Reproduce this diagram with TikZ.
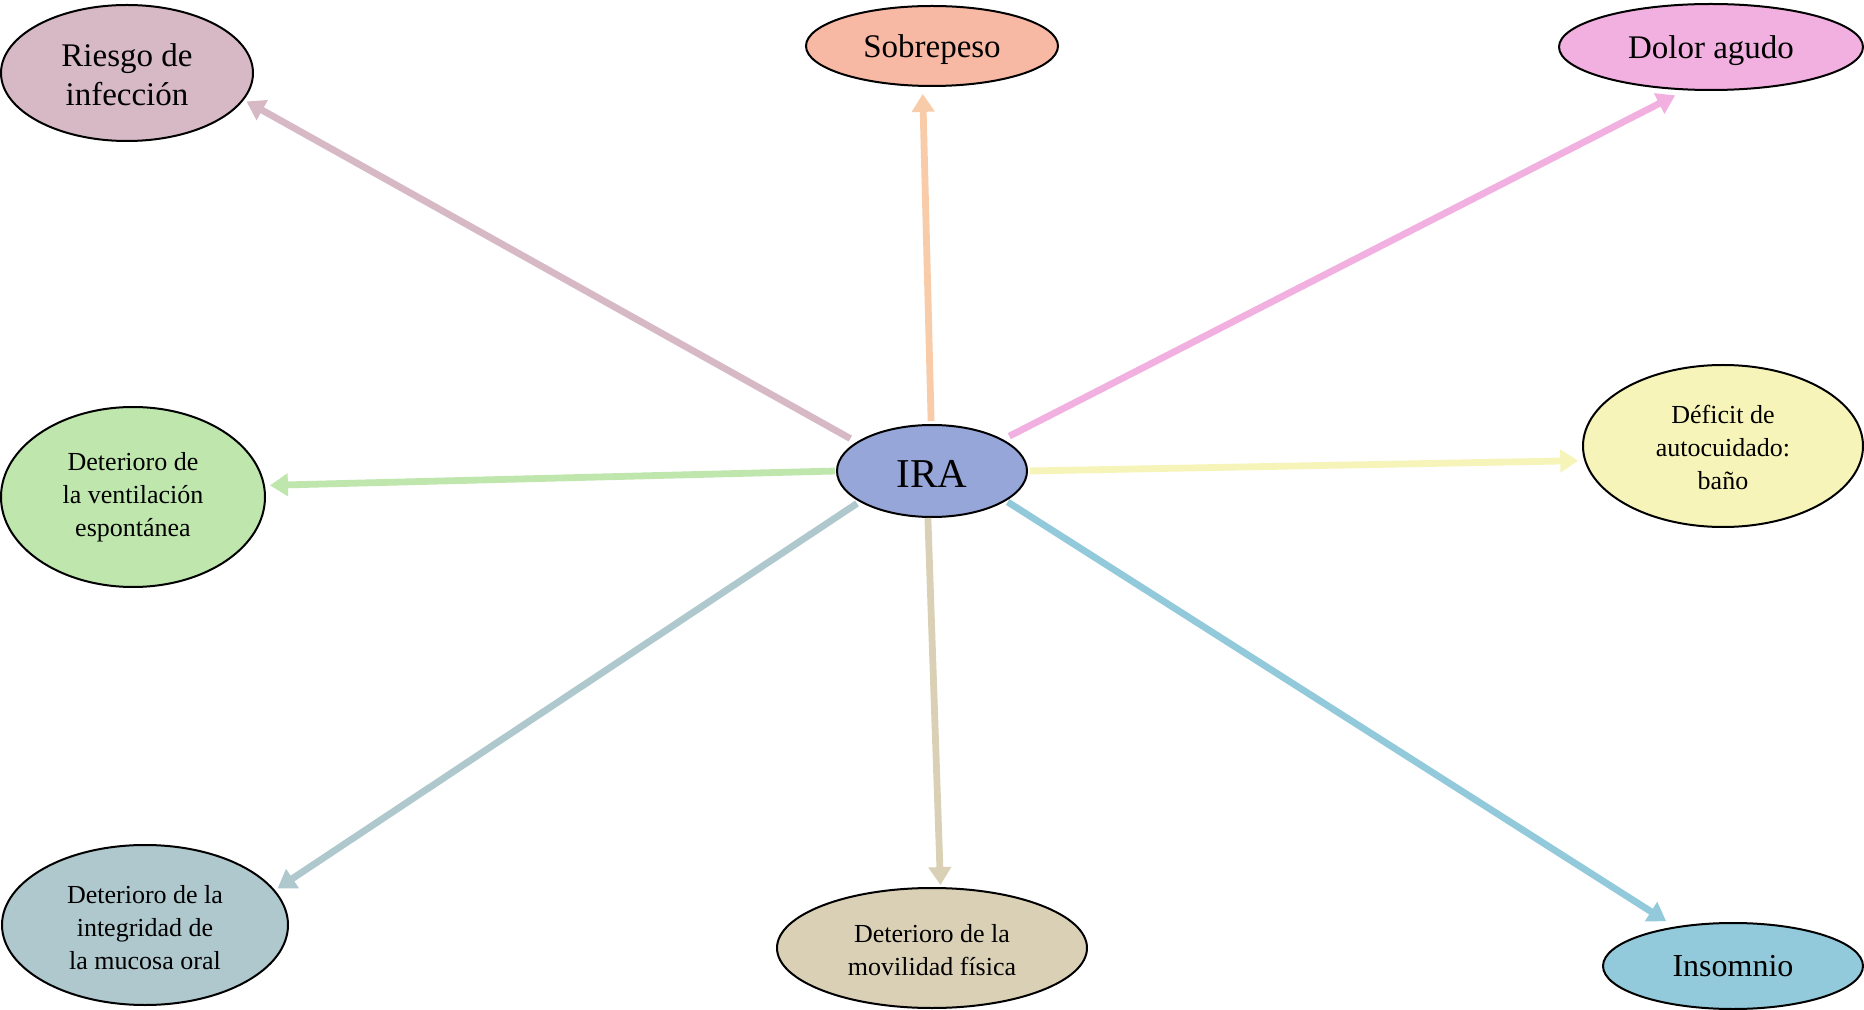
\documentclass[tikz,border=0pt]{standalone}
\usepackage{fontspec}
\setmainfont{Liberation Serif}
\usetikzlibrary{shapes.geometric,arrows.meta}
\definecolor{iraC}{HTML}{97A6D9}
\definecolor{riesgoC}{HTML}{D7B9C5}
\definecolor{sobreC}{HTML}{F7B8A4}
\definecolor{sobreA}{HTML}{F8CBA9}
\definecolor{dolorC}{HTML}{F2B0E1}
\definecolor{deficitC}{HTML}{F6F4B9}
\definecolor{ventC}{HTML}{BEE6AD}
\definecolor{mucosaC}{HTML}{AFC8CD}
\definecolor{movC}{HTML}{DAD0B6}
\definecolor{insC}{HTML}{92CADB}
% lowers the text block in its ellipse by #1
\newcommand\dn[1]{\rule{0pt}{\dimexpr\fontcharht\font`d+#1*2\relax}}
\begin{document}
\begin{tikzpicture}[x=0.5pt,y=-0.5pt,
  bubble/.style={ellipse,draw=black,line width=1pt,inner sep=0pt,align=center},
  big/.style={font=\fontsize{16.5}{19.5}\selectfont},
  small/.style={font=\fontsize{13}{16.5}\selectfont},
  link/.style={line width=3.4pt,-{Triangle[length=9pt,width=11pt]}},
]
\useasboundingbox[fill=white] (0,0) rectangle (1864,1010);

\node[bubble,fill=iraC,minimum width=95pt,minimum height=46pt,font=\fontsize{20.5}{24}\selectfont] (ira) at (932,471) {\dn{1.6pt}IRA};
\node[bubble,fill=riesgoC,big,minimum width=126pt,minimum height=68pt] (riesgo) at (127,73) {\dn{1pt}Riesgo de\\infección};
\node[bubble,fill=sobreC,big,minimum width=126pt,minimum height=40pt] (sobre) at (932,46) {\dn{2.3pt}Sobrepeso};
\node[bubble,fill=dolorC,big,minimum width=152pt,minimum height=43pt] (dolor) at (1711,47) {\dn{2.3pt}Dolor agudo};
\node[bubble,fill=deficitC,small,minimum width=140pt,minimum height=81pt] (deficit) at (1723,446) {\dn{1.2pt}Déficit de\\autocuidado:\\baño};
\node[bubble,fill=ventC,small,minimum width=132pt,minimum height=90pt] (vent) at (133,497) {Deterioro de\\la ventilación\\espontánea};
\node[bubble,fill=mucosaC,small,minimum width=143pt,minimum height=80pt] (mucosa) at (145,925) {\dn{1.7pt}Deterioro de la\\integridad de\\la mucosa oral};
\node[bubble,fill=movC,small,minimum width=155pt,minimum height=60pt] (mov) at (932,948) {\dn{1.2pt}Deterioro de la\\movilidad física};
\node[bubble,fill=insC,font=\fontsize{16}{19}\selectfont,minimum width=130pt,minimum height=43pt] (ins) at (1733,966) {Insomnio};

\draw[link,riesgoC,shorten <=3.5pt,shorten >=1.5pt] (ira.159) -- (riesgo.-13);
\draw[link,sobreA,shorten <=1.5pt,shorten >=3.5pt] (ira.91) -- (sobre.-103);
\draw[link,dolorC,shorten <=3.5pt,shorten >=5.5pt] (ira.24) -- (dolor.-121);
\draw[link,deficitC,shorten <=1pt,shorten >=3pt] (ira.0.6) -- (deficit.-174.4);
\draw[link,ventC,shorten <=0.5pt,shorten >=2.5pt] (ira.180) -- (vent.5);
\draw[link,mucosaC,shorten <=1.5pt,shorten >=1.5pt] (ira.-157.5) -- (mucosa.15.4);
\draw[link,movC,shorten <=0pt,shorten >=1pt] (ira.-95) -- (mov.82.6);
\draw[link,insC,shorten <=1pt,shorten >=5pt] (ira.-22.7) -- (ins.146.7);
\end{tikzpicture}
\end{document}
